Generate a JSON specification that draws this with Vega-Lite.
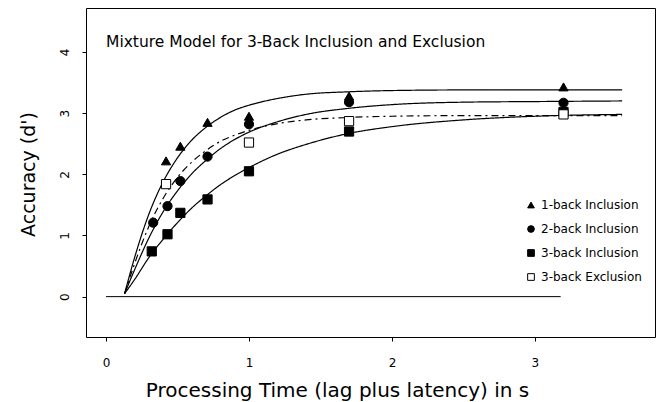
{
  "$schema": "https://vega.github.io/schema/vega-lite/v6.json",
  "width": 569,
  "height": 329,
  "autosize": {"type": "none"},
  "padding": {"left": 86, "top": 8, "right": 3, "bottom": 65},
  "background": "white",
  "config": {
    "view": {"stroke": "black", "strokeWidth": 1},
    "font": "DejaVu Sans",
    "axis": {
      "grid": false, "domain": false, "tickColor": "black", "tickSize": 4,
      "labelColor": "black", "titleColor": "black", "labelFont": "DejaVu Sans",
      "titleFont": "DejaVu Sans", "titleFontWeight": "normal", "labelFontSize": 12
    },
    "legend": {
      "orient": "none", "legendX": 439, "legendY": 191, "title": null,
      "labelFont": "DejaVu Sans", "labelFontSize": 12, "labelColor": "black",
      "symbolSize": 45, "symbolStrokeColor": "black", "symbolStrokeWidth": 1,
      "rowPadding": 12, "labelOffset": 4, "padding": 0
    }
  },
  "datasets": {
    "zero": [{"t": 0, "d": 0}, {"t": 3.18, "d": 0}],
    "curves": [
      {"curve": "c1", "t": 0.13, "d": 0.05}, {"curve": "c1", "t": 0.2, "d": 0.64}, {"curve": "c1", "t": 0.3, "d": 1.35}, {"curve": "c1", "t": 0.4, "d": 1.88}, {"curve": "c1", "t": 0.5, "d": 2.27}, {"curve": "c1", "t": 0.6, "d": 2.56}, {"curve": "c1", "t": 0.7, "d": 2.77}, {"curve": "c1", "t": 0.8, "d": 2.93}, {"curve": "c1", "t": 0.9, "d": 3.05}, {"curve": "c1", "t": 1.0, "d": 3.13}, {"curve": "c1", "t": 1.2, "d": 3.24}, {"curve": "c1", "t": 1.4, "d": 3.31}, {"curve": "c1", "t": 1.7, "d": 3.35}, {"curve": "c1", "t": 2.0, "d": 3.37}, {"curve": "c1", "t": 2.5, "d": 3.38}, {"curve": "c1", "t": 3.0, "d": 3.38}, {"curve": "c1", "t": 3.61, "d": 3.38},
      {"curve": "c2", "t": 0.13, "d": 0.05}, {"curve": "c2", "t": 0.2, "d": 0.44}, {"curve": "c2", "t": 0.3, "d": 0.96}, {"curve": "c2", "t": 0.4, "d": 1.39}, {"curve": "c2", "t": 0.5, "d": 1.73}, {"curve": "c2", "t": 0.6, "d": 2.01}, {"curve": "c2", "t": 0.7, "d": 2.23}, {"curve": "c2", "t": 0.8, "d": 2.42}, {"curve": "c2", "t": 0.9, "d": 2.57}, {"curve": "c2", "t": 1.0, "d": 2.69}, {"curve": "c2", "t": 1.2, "d": 2.86}, {"curve": "c2", "t": 1.4, "d": 2.98}, {"curve": "c2", "t": 1.7, "d": 3.08}, {"curve": "c2", "t": 2.0, "d": 3.14}, {"curve": "c2", "t": 2.5, "d": 3.18}, {"curve": "c2", "t": 3.0, "d": 3.19}, {"curve": "c2", "t": 3.61, "d": 3.2},
      {"curve": "c3", "t": 0.13, "d": 0.05}, {"curve": "c3", "t": 0.2, "d": 0.54}, {"curve": "c3", "t": 0.3, "d": 1.15}, {"curve": "c3", "t": 0.4, "d": 1.61}, {"curve": "c3", "t": 0.5, "d": 1.95}, {"curve": "c3", "t": 0.6, "d": 2.2}, {"curve": "c3", "t": 0.7, "d": 2.39}, {"curve": "c3", "t": 0.8, "d": 2.54}, {"curve": "c3", "t": 0.9, "d": 2.64}, {"curve": "c3", "t": 1.0, "d": 2.72}, {"curve": "c3", "t": 1.2, "d": 2.83}, {"curve": "c3", "t": 1.4, "d": 2.89}, {"curve": "c3", "t": 1.7, "d": 2.93}, {"curve": "c3", "t": 2.0, "d": 2.95}, {"curve": "c3", "t": 2.5, "d": 2.96}, {"curve": "c3", "t": 3.0, "d": 2.96}, {"curve": "c3", "t": 3.61, "d": 2.96},
      {"curve": "c4", "t": 0.13, "d": 0.05}, {"curve": "c4", "t": 0.2, "d": 0.28}, {"curve": "c4", "t": 0.3, "d": 0.64}, {"curve": "c4", "t": 0.4, "d": 0.94}, {"curve": "c4", "t": 0.5, "d": 1.21}, {"curve": "c4", "t": 0.6, "d": 1.45}, {"curve": "c4", "t": 0.7, "d": 1.65}, {"curve": "c4", "t": 0.8, "d": 1.83}, {"curve": "c4", "t": 0.9, "d": 1.98}, {"curve": "c4", "t": 1.0, "d": 2.11}, {"curve": "c4", "t": 1.2, "d": 2.33}, {"curve": "c4", "t": 1.4, "d": 2.49}, {"curve": "c4", "t": 1.7, "d": 2.67}, {"curve": "c4", "t": 2.0, "d": 2.78}, {"curve": "c4", "t": 2.5, "d": 2.89}, {"curve": "c4", "t": 3.0, "d": 2.95}, {"curve": "c4", "t": 3.61, "d": 2.98}
    ],
    "points": [
      {"cond": "1-back Inclusion", "t": 0.42, "d": 2.22}, {"cond": "1-back Inclusion", "t": 0.52, "d": 2.46}, {"cond": "1-back Inclusion", "t": 0.71, "d": 2.85}, {"cond": "1-back Inclusion", "t": 1.0, "d": 2.95}, {"cond": "1-back Inclusion", "t": 1.7, "d": 3.28}, {"cond": "1-back Inclusion", "t": 3.2, "d": 3.43},
      {"cond": "2-back Inclusion", "t": 0.33, "d": 1.21}, {"cond": "2-back Inclusion", "t": 0.43, "d": 1.48}, {"cond": "2-back Inclusion", "t": 0.52, "d": 1.89}, {"cond": "2-back Inclusion", "t": 0.71, "d": 2.29}, {"cond": "2-back Inclusion", "t": 1.0, "d": 2.82}, {"cond": "2-back Inclusion", "t": 1.7, "d": 3.18}, {"cond": "2-back Inclusion", "t": 3.2, "d": 3.17},
      {"cond": "3-back Inclusion", "t": 0.32, "d": 0.74}, {"cond": "3-back Inclusion", "t": 0.43, "d": 1.02}, {"cond": "3-back Inclusion", "t": 0.52, "d": 1.37}, {"cond": "3-back Inclusion", "t": 0.71, "d": 1.59}, {"cond": "3-back Inclusion", "t": 1.0, "d": 2.05}, {"cond": "3-back Inclusion", "t": 1.7, "d": 2.7}, {"cond": "3-back Inclusion", "t": 3.2, "d": 3.02},
      {"cond": "3-back Exclusion", "t": 0.42, "d": 1.84}, {"cond": "3-back Exclusion", "t": 1.0, "d": 2.52}, {"cond": "3-back Exclusion", "t": 1.7, "d": 2.87}, {"cond": "3-back Exclusion", "t": 3.2, "d": 2.98}
    ],
    "heading": [{"t": 0.0, "d": 4.16, "label": "Mixture Model for 3-Back Inclusion and Exclusion"}]
  },
  "layer": [
    {
      "data": {"name": "zero"},
      "mark": {"type": "line", "color": "black", "strokeWidth": 1},
      "encoding": {
        "x": {"field": "t", "type": "quantitative",
          "scale": {"domain": [-0.14, 3.84], "nice": false, "zero": false},
          "axis": {"values": [0, 1, 2, 3], "format": "d", "labelPadding": 16,
            "title": "Processing Time (lag plus latency) in s", "titleFontSize": 20,
            "titleX": 251, "titleY": 53, "titleAlign": "center", "titleBaseline": "middle"}},
        "y": {"field": "d", "type": "quantitative",
          "scale": {"domain": [-0.66, 4.72], "nice": false, "zero": false},
          "axis": {"values": [0, 1, 2, 3, 4], "format": "d", "labelAngle": -90, "labelAlign": "center",
            "labelBaseline": "middle", "labelPadding": 18, "title": "Accuracy (d')", "titleFontSize": 19,
            "titleAngle": -90, "titleX": -58, "titleY": 166, "titleAlign": "center", "titleBaseline": "middle"}}
      }
    },
    {
      "data": {"name": "curves"},
      "mark": {"type": "line", "color": "black", "strokeWidth": 1.2, "interpolate": "monotone"},
      "encoding": {
        "x": {"field": "t", "type": "quantitative"},
        "y": {"field": "d", "type": "quantitative"},
        "detail": {"field": "curve"},
        "strokeDash": {"field": "curve", "type": "nominal",
          "scale": {"domain": ["c1", "c2", "c3", "c4"], "range": [[1, 0], [1, 0], [7, 4, 2, 4], [1, 0]]},
          "legend": null}
      }
    },
    {
      "data": {"name": "points"},
      "mark": {"type": "point", "filled": true, "strokeWidth": 1, "size": 85, "opacity": 1},
      "encoding": {
        "x": {"field": "t", "type": "quantitative"},
        "y": {"field": "d", "type": "quantitative"},
        "shape": {"field": "cond", "type": "nominal",
          "scale": {"domain": ["1-back Inclusion", "2-back Inclusion", "3-back Inclusion", "3-back Exclusion"],
            "range": ["triangle-up", "circle", "square", "square"]}},
        "fill": {"field": "cond", "type": "nominal",
          "scale": {"domain": ["1-back Inclusion", "2-back Inclusion", "3-back Inclusion", "3-back Exclusion"],
            "range": ["black", "black", "black", "white"]}},
        "stroke": {"field": "cond", "type": "nominal",
          "scale": {"domain": ["1-back Inclusion", "2-back Inclusion", "3-back Inclusion", "3-back Exclusion"],
            "range": ["black", "black", "black", "black"]}}
      }
    },
    {
      "data": {"name": "heading"},
      "mark": {"type": "text", "align": "left", "baseline": "middle", "fontSize": 15.5, "font": "DejaVu Sans", "color": "black"},
      "encoding": {
        "x": {"field": "t", "type": "quantitative"},
        "y": {"field": "d", "type": "quantitative"},
        "text": {"field": "label"}
      }
    }
  ]
}
